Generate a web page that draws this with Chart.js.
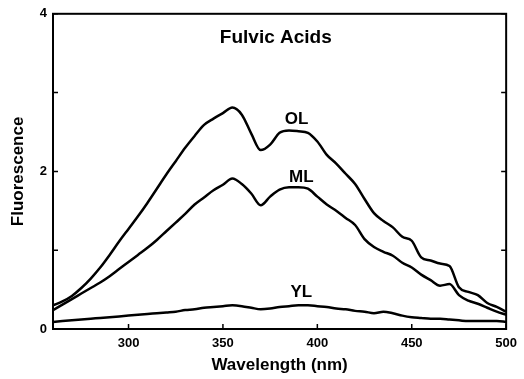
<!DOCTYPE html>
<html>
<head>
<meta charset="utf-8">
<script src="https://cdn.jsdelivr.net/npm/chart.js@4"></script>
<style>
  html, body { margin: 0; padding: 0; background: #fff; }
  #wrap { width: 524px; height: 379px; }
</style>
</head>
<body>
<div id="wrap"><canvas id="chart"></canvas></div>
<script>
// wavelengths (nm), 5 nm steps
const wavelengths = [260,265,270,275,280,285,290,295,300,305,310,315,320,325,330,335,340,345,350,355,
  360,365,370,375,380,385,390,395,400,405,410,415,420,425,430,435,440,445,450,455,460,465,470,475,480,485,490,495,500];

const olValues = [0.30,0.35,0.42,0.52,0.64,0.78,0.94,1.11,1.27,1.43,1.60,1.78,1.96,2.13,2.30,2.45,2.59,2.67,2.74,2.81,
  2.72,2.48,2.27,2.34,2.49,2.52,2.51,2.49,2.38,2.21,2.10,1.97,1.84,1.65,1.47,1.37,1.29,1.17,1.12,0.91,0.87,0.83,0.80,0.53,0.47,0.43,0.33,0.28,0.22];

const mlValues = [0.24,0.31,0.38,0.45,0.52,0.59,0.67,0.76,0.85,0.94,1.03,1.13,1.24,1.35,1.46,1.58,1.67,1.76,1.83,1.91,
  1.84,1.72,1.57,1.68,1.77,1.80,1.80,1.78,1.68,1.58,1.50,1.41,1.32,1.14,1.04,0.98,0.93,0.84,0.78,0.69,0.62,0.55,0.57,0.43,0.36,0.32,0.27,0.22,0.18];

const ylValues = [0.09,0.10,0.11,0.12,0.13,0.14,0.15,0.16,0.17,0.18,0.19,0.20,0.21,0.22,0.24,0.25,0.27,0.28,0.29,0.30,
  0.29,0.27,0.25,0.26,0.28,0.29,0.30,0.30,0.29,0.28,0.26,0.25,0.23,0.22,0.20,0.22,0.20,0.17,0.15,0.14,0.13,0.13,0.12,0.11,0.10,0.10,0.10,0.10,0.09];

const xTicks = [300, 350, 400, 450, 500];
const yTicks = [0, 1, 2, 3, 4];
const yLabels = { 0: "0", 2: "2", 4: "4" };

// in-plot texts: [text, wavelength, fluorescence, font size]
const plotTexts = [
  ["Fulvic Acids", 378, 3.69, 19],
  ["OL", 389, 2.66, 17],
  ["ML", 391.5, 1.93, 17],
  ["YL", 391.5, 0.46, 17]
];

const FONT = "'Liberation Sans', Arial, sans-serif";

function pts(vals) {
  return wavelengths.map((w, i) => ({ x: w, y: vals[i] }));
}

// frame, inward ticks and in-plot labels
const framePlugin = {
  id: "frame",
  afterDatasetsDraw(chart) {
    const { ctx, chartArea: a, scales } = chart;
    ctx.save();
    ctx.strokeStyle = "#000";
    ctx.lineWidth = 2;
    ctx.strokeRect(a.left, a.top, a.right - a.left, a.bottom - a.top);
    ctx.lineWidth = 1.5;
    ctx.beginPath();
    xTicks.forEach((v) => {
      const px = scales.x.getPixelForValue(v);
      ctx.moveTo(px, a.bottom); ctx.lineTo(px, a.bottom - 5);
    });
    yTicks.forEach((v) => {
      const py = scales.y.getPixelForValue(v);
      ctx.moveTo(a.left, py); ctx.lineTo(a.left + 5, py);
      ctx.moveTo(a.right, py); ctx.lineTo(a.right - 5, py);
    });
    ctx.stroke();
    ctx.fillStyle = "#000";
    ctx.textAlign = "center";
    ctx.textBaseline = "middle";
    plotTexts.forEach(([t, x, y, size]) => {
      ctx.font = "bold " + size + "px " + FONT;
      ctx.fillText(t, scales.x.getPixelForValue(x), scales.y.getPixelForValue(y));
    });
    ctx.restore();
  }
};

const lineStyle = {
  borderColor: "#000", borderWidth: 2.5, pointRadius: 0,
  cubicInterpolationMode: "monotone", fill: false
};

new Chart(document.getElementById("chart"), {
  type: "line",
  data: {
    datasets: [
      { label: "OL", data: pts(olValues), ...lineStyle },
      { label: "ML", data: pts(mlValues), ...lineStyle },
      { label: "YL", data: pts(ylValues), ...lineStyle }
    ]
  },
  options: {
    responsive: true,
    maintainAspectRatio: false,
    animation: false,
    layout: { padding: { top: 11, right: 17, left: 0, bottom: 0 } },
    plugins: { legend: { display: false }, tooltip: { enabled: false } },
    scales: {
      x: {
        type: "linear",
        min: 260,
        max: 500,
        afterBuildTicks: (s) => { s.ticks = xTicks.map((v) => ({ value: v })); },
        afterFit: (s) => { s.height = 50; },
        grid: { display: false, drawTicks: false },
        border: { display: false },
        ticks: { color: "#000", padding: 7, maxRotation: 0, font: { family: FONT, size: 13, weight: "bold" } },
        title: { display: true, text: "Wavelength (nm)", color: "#000", padding: { top: 6, bottom: 3 }, font: { family: FONT, size: 17, weight: "bold" } }
      },
      y: {
        min: 0,
        max: 4,
        afterBuildTicks: (s) => { s.ticks = yTicks.map((v) => ({ value: v })); },
        afterFit: (s) => { s.width = 53; },
        grid: { display: false, drawTicks: false },
        border: { display: false },
        ticks: { color: "#000", padding: 6, callback: (v) => yLabels[v] || "", font: { family: FONT, size: 13, weight: "bold" } },
        title: { display: true, text: "Fluorescence", color: "#000", padding: { top: 8, bottom: 4 }, font: { family: FONT, size: 17, weight: "bold" } }
      }
    }
  },
  plugins: [framePlugin]
});
</script>
</body>
</html>
